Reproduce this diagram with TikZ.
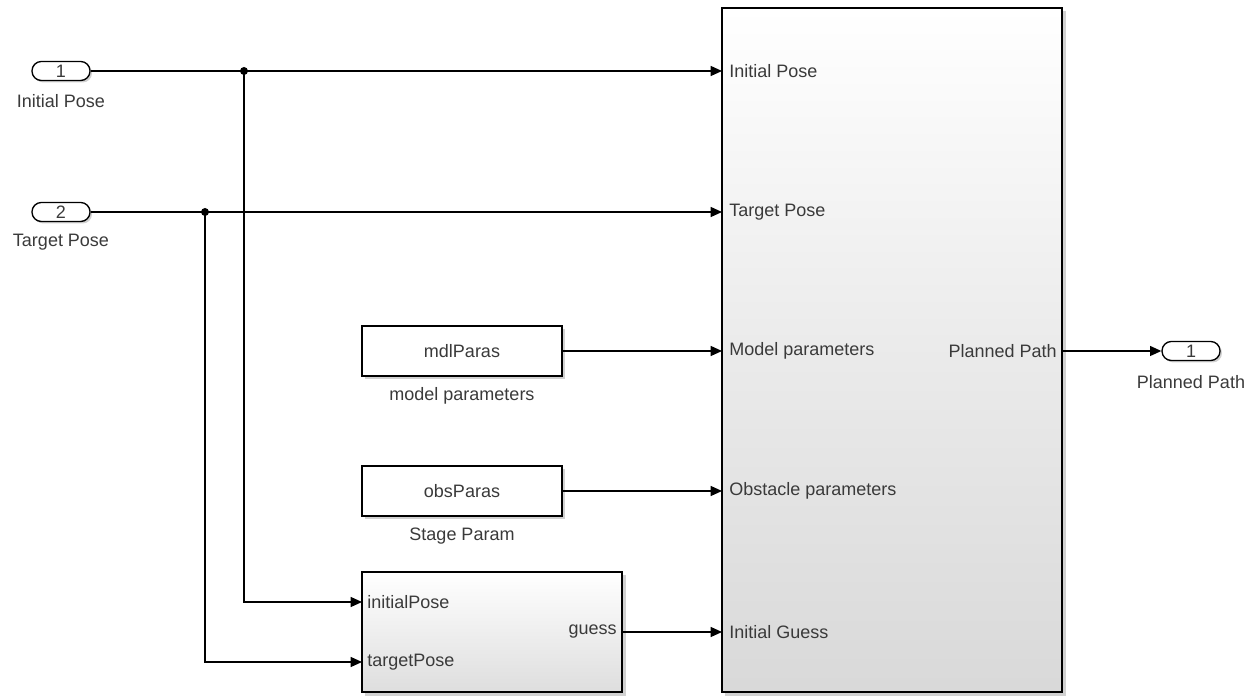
\documentclass[tikz,border=0pt]{standalone}
\usepackage{fontspec}
\setmainfont{Liberation Sans}
\usetikzlibrary{arrows.meta,shadows,positioning}
\definecolor{txt}{HTML}{3a3a3a}
\tikzset{
  wire/.style={line width=1pt, draw=black},
  arr/.style={wire, -{Triangle[length=8.5pt,width=7.5pt]}},
  port/.style={draw=black, line width=1pt, rounded corners=7pt, fill=white,
     minimum width=58*0.75pt, minimum height=19*0.75pt, inner sep=0pt,
     font=\fontsize{13.5}{15}\selectfont, text=txt,
     drop shadow={shadow xshift=1.5pt, shadow yshift=-1.5pt, fill=black!30, opacity=0.6}},
  blk/.style={draw=black, line width=1pt, fill=white, inner sep=0pt,
     font=\fontsize{13.5}{15}\selectfont, text=txt,
     drop shadow={shadow xshift=2pt, shadow yshift=-2pt, fill=black!30, opacity=0.6}},
  lbl/.style={font=\fontsize{13.5}{15}\selectfont, text=txt, inner sep=0pt},
  jn/.style={circle, fill=black, inner sep=0pt, minimum size=6pt},
}
\begin{document}
\begin{tikzpicture}[x=0.75pt,y=-0.75pt]
\useasboundingbox (0,0) rectangle (1254,698);
% main block
\fill[black!30, opacity=0.6] (725,11) rectangle (1066,696);
\shade[top color=white, bottom color=black!15, middle color=white!92!black, draw=black, line width=1pt] (722,8) rectangle (1062,692);
\node[lbl, anchor=west] (mi1) at (729,71) {Initial Pose};
\node[lbl, anchor=west] (mi2) at (729,212) {Target Pose};
\node[lbl, anchor=west] (mi3) at (729,351) {Model parameters};
\node[lbl, anchor=west] (mi4) at (729,491) {Obstacle parameters};
\node[lbl, anchor=west] (mi5) at (729,632) {Initial Guess};
\node[lbl, anchor=east] (mo) at (1057,351) {Planned Path};
\coordinate (P1) at (722,71);
\coordinate (P2) at (722,212);
\coordinate (P3) at (722,351);
\coordinate (P4) at (722,491);
\coordinate (P5) at (722,632);
\coordinate (PO) at (1062,351);
% inports
\node[port] (in1) at (61,71) {1};
\node[lbl] (in1l) at (61,101) {Initial Pose};
\node[port] (in2) at (61,212) {2};
\node[lbl] (in2l) at (61,242) {Target Pose};
% outport
\node[port] (out1) at (1191,351) {1};
\node[lbl] (out1l) at (1191,382) {Planned Path};
% constant blocks
\node[blk, minimum width=200*0.75pt, minimum height=50*0.75pt] (mdl) at (462,351) {mdlParas};
\node[lbl] (mdll) at (462,396) {model parameters};
\node[blk, minimum width=200*0.75pt, minimum height=50*0.75pt] (obs) at (462,491) {obsParas};
\node[lbl] (obsl) at (462,536) {Stage Param};
% guess block
\fill[black!30, opacity=0.6] (365,575) rectangle (626,696);
\shade[top color=white, bottom color=black!13, draw=black, line width=1pt] (362,572) rectangle (622,692);
\node[lbl, anchor=west] (g1) at (367,602) {initialPose};
\node[lbl, anchor=west] (g2) at (367,662) {targetPose};
\node[lbl, anchor=east] (go) at (617,632) {guess};
\coordinate (G1) at (362,602);
\coordinate (G2) at (362,662);
\coordinate (GO) at (622,632);
% junctions
\node[jn] (j1) at (244,71) {};
\node[jn] (j2) at (205,212) {};
\coordinate (c1) at (244,602);
\coordinate (c2) at (205,662);
% wires
\draw[arr] (in1.east) -- (P1);
\draw[arr] (in2.east) -- (P2);
\draw[arr] (mdl.east) -- (P3);
\draw[arr] (obs.east) -- (P4);
\draw[arr] (GO) -- (P5);
\draw[arr] (PO) -- (out1.west);
\draw[arr] (j1.center) -- (c1) -- (G1);
\draw[arr] (j2.center) -- (c2) -- (G2);
\end{tikzpicture}
\end{document}
